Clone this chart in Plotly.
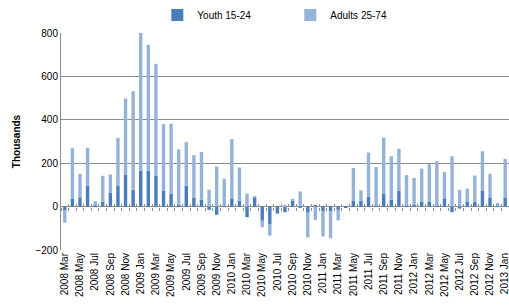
import plotly.graph_objects as go

months = []
mnames = ["Jan", "Feb", "Mar", "Apr", "May", "Jun", "Jul", "Aug", "Sep", "Oct", "Nov", "Dec"]
for yr in range(2008, 2014):
    for mi, mn in enumerate(mnames):
        if (yr == 2008 and mi < 2) or (yr == 2013 and mi > 0):
            continue
        months.append(f"{yr} {mn}")

youth = [-18, 37, 43, 97, 5, 22, 65, 95, 146, 78,
         166, 166, 143, 72, 58, 9, 97, 42, 32, -15, -38, 3,
         38, 28, -49, 40, -65, -80, -30, -26, 26, -5, -28, 8,
         -23, -23, -15, -3, 28, 28, 45, 3, 58, 32, 74, 3,
         8, 22, 22, 3, 38, -26, -9, 22, 23, 74, 43, 2,
         42]
adults = [-56, 232, 108, 174, 20, 120, 83, 222, 352, 454,
          640, 580, 515, 308, 324, 254, 200, 195, 220, 78, 185, 125,
          273, 152, 60, 5, -30, -54, -2, 8, 10, 70, -114, -62,
          -115, -123, -48, 0, 150, 47, 204, 179, 260, 200, 192, 142,
          124, 153, 173, 206, 122, 232, 77, 61, 120, 181, 108, 15,
          178]

tick_labels = months[::2]
y_ticks = [-200, 0, 200, 400, 600, 800]

DARK = "#4A7EBB"
LIGHT = "#95B3D7"
GRID = "#8C8C8C"
FONT = "Liberation Sans"

fig = go.Figure()
fig.add_trace(go.Bar(x=months, y=youth, name="Youth 15-24", marker_color=DARK,
                     marker_line_width=0))
fig.add_trace(go.Bar(x=months, y=adults, name="Adults 25-74", marker_color=LIGHT,
                     marker_line_width=0))
# empty helper traces so the tick-mark axes (crossing the zero line) are drawn
fig.add_trace(go.Scatter(x=[], y=[], xaxis="x2", showlegend=False, hoverinfo="skip"))
fig.add_trace(go.Scatter(x=[], y=[], xaxis="x3", showlegend=False, hoverinfo="skip"))

n = len(months)
fig.update_layout(
    width=509, height=305,
    barmode="relative", bargap=0.55,
    margin=dict(l=61, r=0, t=33, b=55, autoexpand=False),
    paper_bgcolor="white", plot_bgcolor="white",
    font=dict(family=FONT, size=10, color="black"),
    legend=dict(orientation="h", x=0.215, xanchor="left", y=1.083, yanchor="middle",
                font=dict(size=10), entrywidth=88, itemwidth=30,
                bgcolor="rgba(0,0,0,0)"),
    showlegend=True,
    xaxis=dict(type="category", categoryorder="array", categoryarray=months,
               tickmode="array", tickvals=tick_labels, ticktext=tick_labels,
               tickangle=-90, ticks="", showgrid=False, showline=False,
               zeroline=False, range=[-0.5, n - 0.5], tickfont=dict(size=10)),
    xaxis2=dict(overlaying="x", anchor="free", position=0.2, range=[-0.5, n - 0.5],
                tickmode="linear", tick0=-0.5, dtick=1, ticks="outside", ticklen=3,
                tickcolor=GRID, tickwidth=1, showticklabels=False, showgrid=False,
                showline=False, zeroline=False),
    xaxis3=dict(overlaying="x", anchor="free", position=0.2, range=[-0.5, n - 0.5],
                tickmode="linear", tick0=-0.5, dtick=1, ticks="inside", ticklen=3,
                tickcolor=GRID, tickwidth=1, showticklabels=False, showgrid=False,
                showline=False, zeroline=False),
    yaxis=dict(range=[-200, 800], tickvals=y_ticks, showgrid=True, gridcolor=GRID,
               gridwidth=1, zeroline=True, zerolinecolor=GRID, zerolinewidth=1,
               showline=True, linecolor=GRID, linewidth=1, ticks="",
               tickfont=dict(size=10),
               title=dict(text="<b>Thousands</b>", font=dict(size=10), standoff=12)),
)

fig.write_html("out.html", config={"displayModeBar": False},
               post_script="document.body.style.margin='0px';document.body.style.overflow='hidden';")
